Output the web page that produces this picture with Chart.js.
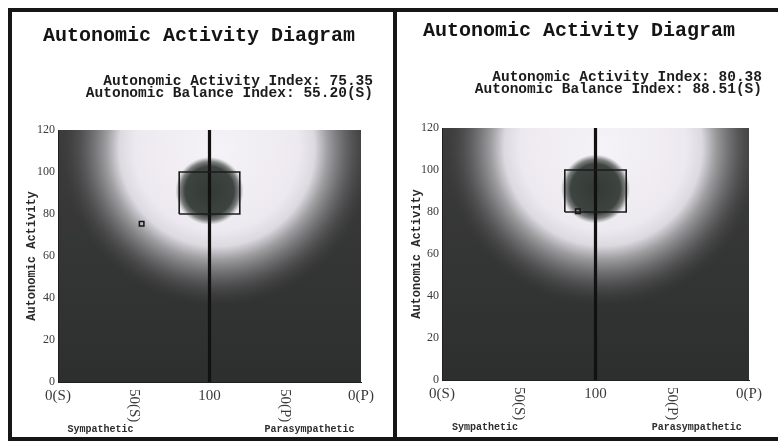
<!DOCTYPE html>
<html>
<head>
<meta charset="utf-8">
<script src="https://cdn.jsdelivr.net/npm/chart.js@4"></script>
<style>
  html, body { margin: 0; padding: 0; background: #fff; }
  #stage { position: relative; width: 778px; height: 442px; overflow: hidden; background: #fff; }
  .frame { position: absolute; left: 8px; top: 8px; width: 790px; height: 425px; border: 4px solid #161616; }
  .divider { position: absolute; left: 393px; top: 8px; width: 4px; height: 433px; background: #161616; }
  .panel { position: absolute; top: 12px; width: 381px; height: 425px; }
  .title { position: absolute; font: bold 20px "Liberation Mono", monospace; color: #141414; white-space: pre; line-height: 20px; }
  .index { position: absolute; font: bold 14.5px "Liberation Mono", monospace; color: #1c1c1c; white-space: pre; line-height: 11.5px; text-align: right; }
</style>
</head>
<body>
<div id="stage">
  <div class="frame"></div>
  <div class="divider"></div>
  <div class="panel" style="left:12px"><canvas id="c0" width="381" height="425"></canvas></div>
  <div class="panel" style="left:397px"><canvas id="c1" width="381" height="425"></canvas></div>
  <div class="title" id="t0" style="left:43px; top:26px"></div>
  <div class="title" id="t1" style="left:423px; top:21px"></div>
  <div class="index" id="i0" style="right:405px; top:76px"></div>
  <div class="index" id="i1" style="right:16px; top:72px"></div>
</div>
<script>
// ---- values shown on the two diagrams ----
const diagramTitle = 'Autonomic Activity Diagram';
const activityIndex = [75.35, 80.38];     // vertical position of each subject
const balanceIndex = [55.20, 88.51];      // horizontal position, counted from the (S) side
const balanceSide = ['S', 'S'];

// ---- axes ----
const xTickValues = [0, 50, 100, 150, 200];
const xTickLabels = ['0(S)', '50(S)', '100', '50(P)', '0(P)'];
const xTickRotated = [false, true, false, true, false];
const xAxisNames = ['Sympathetic', 'Parasympathetic'];
const yAxisName = 'Autonomic Activity';

// ---- reference zone ----
const normalBoxX = [80, 120];
const normalBoxY = [80, 100];
const balanceLineX = [100, 100];
const balanceLineY = [0, 120];

// layout of each panel (pixels inside its canvas)
const panelLayout = [
  { top: 118, right: 32, yWidth: 46, xHeight: 55 },
  { top: 116, right: 29, yWidth: 45, xHeight: 57 }
];
const axisNameAt = [28, 166];   // x values the two axis names are centred on

// soft glow behind the diagram and the dark core of the reference zone
const glowCentre = { x: 105, y: 111 };
const coreCentre = { x: 100, y: 91 };

const diagramBackdrop = {
  id: 'diagramBackdrop',
  beforeDraw(chart) {
    const { ctx, chartArea: a, scales: { x, y } } = chart;
    ctx.save();
    ctx.beginPath();
    ctx.rect(a.left, a.top, a.right - a.left, a.bottom - a.top);
    ctx.clip();
    const base = ctx.createLinearGradient(0, a.top, 0, a.bottom);
    base.addColorStop(0, '#3c3c3d');
    base.addColorStop(1, '#2d2e2e');
    ctx.fillStyle = base;
    ctx.fillRect(a.left, a.top, a.right - a.left, a.bottom - a.top);

    const gx = x.getPixelForValue(glowCentre.x);
    const gy = y.getPixelForValue(glowCentre.y);
    const gr = (a.right - a.left) * 0.52;
    const glow = ctx.createRadialGradient(gx, gy, 0, gx, gy, gr);
    glow.addColorStop(0.00, 'rgba(245,243,247,1)');
    glow.addColorStop(0.52, 'rgba(237,233,240,1)');
    glow.addColorStop(0.62, 'rgba(220,217,224,1)');
    glow.addColorStop(0.70, 'rgba(165,165,168,0.95)');
    glow.addColorStop(0.82, 'rgba(112,112,114,0.75)');
    glow.addColorStop(0.93, 'rgba(78,78,79,0.35)');
    glow.addColorStop(1.00, 'rgba(60,60,60,0)');
    ctx.fillStyle = glow;
    ctx.fillRect(a.left, a.top, a.right - a.left, a.bottom - a.top);

    const cx = x.getPixelForValue(coreCentre.x);
    const cy = y.getPixelForValue(coreCentre.y);
    const cr = (a.right - a.left) * 0.112;
    const core = ctx.createRadialGradient(cx, cy, 0, cx, cy, cr);
    core.addColorStop(0.0, 'rgba(50,58,54,1)');
    core.addColorStop(0.72, 'rgba(56,63,59,0.97)');
    core.addColorStop(0.86, 'rgba(70,76,72,0.7)');
    core.addColorStop(1.0, 'rgba(90,94,92,0)');
    ctx.fillStyle = core;
    ctx.fillRect(cx - cr, cy - cr, cr * 2, cr * 2);
    ctx.restore();
  },
  afterDraw(chart) {
    const { ctx, chartArea: a, scales: { x } } = chart;
    ctx.save();
    ctx.fillStyle = '#3a3a3a';
    ctx.font = '15px "Liberation Serif", serif';
    const top = a.bottom + 7;
    xTickValues.forEach((v, i) => {
      const px = x.getPixelForValue(v);
      if (xTickRotated[i]) {
        ctx.save();
        ctx.translate(px, top);
        ctx.rotate(Math.PI / 2);
        ctx.textAlign = 'left';
        ctx.textBaseline = 'middle';
        ctx.fillText(xTickLabels[i], 0, 0);
        ctx.restore();
      } else {
        ctx.textAlign = 'center';
        ctx.textBaseline = 'top';
        ctx.fillText(xTickLabels[i], px, top);
      }
    });
    ctx.font = 'bold 10px "Liberation Mono", monospace';
    ctx.fillStyle = '#2e2e2e';
    ctx.textAlign = 'center';
    ctx.textBaseline = 'alphabetic';
    xAxisNames.forEach((name, i) => {
      ctx.fillText(name, x.getPixelForValue(axisNameAt[i]), a.bottom + 50);
    });
    ctx.restore();
  }
};

function buildDiagram(idx) {
  const L = panelLayout[idx];
  const box = [
    { x: normalBoxX[0], y: normalBoxY[0] },
    { x: normalBoxX[1], y: normalBoxY[0] },
    { x: normalBoxX[1], y: normalBoxY[1] },
    { x: normalBoxX[0], y: normalBoxY[1] },
    { x: normalBoxX[0], y: normalBoxY[0] }
  ];
  const line = balanceLineX.map((v, i) => ({ x: v, y: balanceLineY[i] }));
  return new Chart(document.getElementById('c' + idx), {
    type: 'scatter',
    data: {
      datasets: [
        { data: box, showLine: true, borderColor: '#1b1b1b', borderWidth: 1.6, pointRadius: 0, fill: false },
        { data: line, showLine: true, borderColor: '#111', borderWidth: 3.2, pointRadius: 0, fill: false },
        { data: [{ x: balanceIndex[idx], y: activityIndex[idx] }], pointStyle: 'rect', pointRadius: 3.2,
          borderColor: '#151515', borderWidth: 1.5, backgroundColor: 'rgba(200,200,200,0.35)' }
      ]
    },
    options: {
      responsive: false,
      devicePixelRatio: 1,
      animation: false,
      events: [],
      layout: { padding: { top: L.top, right: L.right, left: 0, bottom: 0 } },
      plugins: { legend: { display: false }, tooltip: { enabled: false } },
      scales: {
        x: {
          type: 'linear', min: 0, max: 200,
          grid: { display: false, drawTicks: false },
          border: { display: true, color: '#202020', width: 1 },
          ticks: { display: false },
          afterFit(s) { s.height = L.xHeight; }
        },
        y: {
          type: 'linear', min: 0, max: 120,
          grid: { display: false, drawTicks: false },
          border: { display: true, color: '#202020', width: 1 },
          ticks: { stepSize: 20, padding: 3, color: '#3a3a3a', font: { family: '"Liberation Serif", serif', size: 12 } },
          title: { display: true, text: yAxisName, color: '#2a2a2a', padding: { top: 13, bottom: 0 },
                   font: { family: '"Liberation Mono", monospace', size: 12, weight: 'bold', lineHeight: 1.2 } },
          afterFit(s) { s.width = L.yWidth; }
        }
      }
    },
    plugins: [diagramBackdrop]
  });
}

[0, 1].forEach(i => {
  document.getElementById('t' + i).textContent = diagramTitle;
  document.getElementById('i' + i).textContent =
    'Autonomic Activity Index: ' + activityIndex[i].toFixed(2) + '\n' +
    'Autonomic Balance Index: ' + balanceIndex[i].toFixed(2) + '(' + balanceSide[i] + ')';
  buildDiagram(i);
});
</script>
</body>
</html>
